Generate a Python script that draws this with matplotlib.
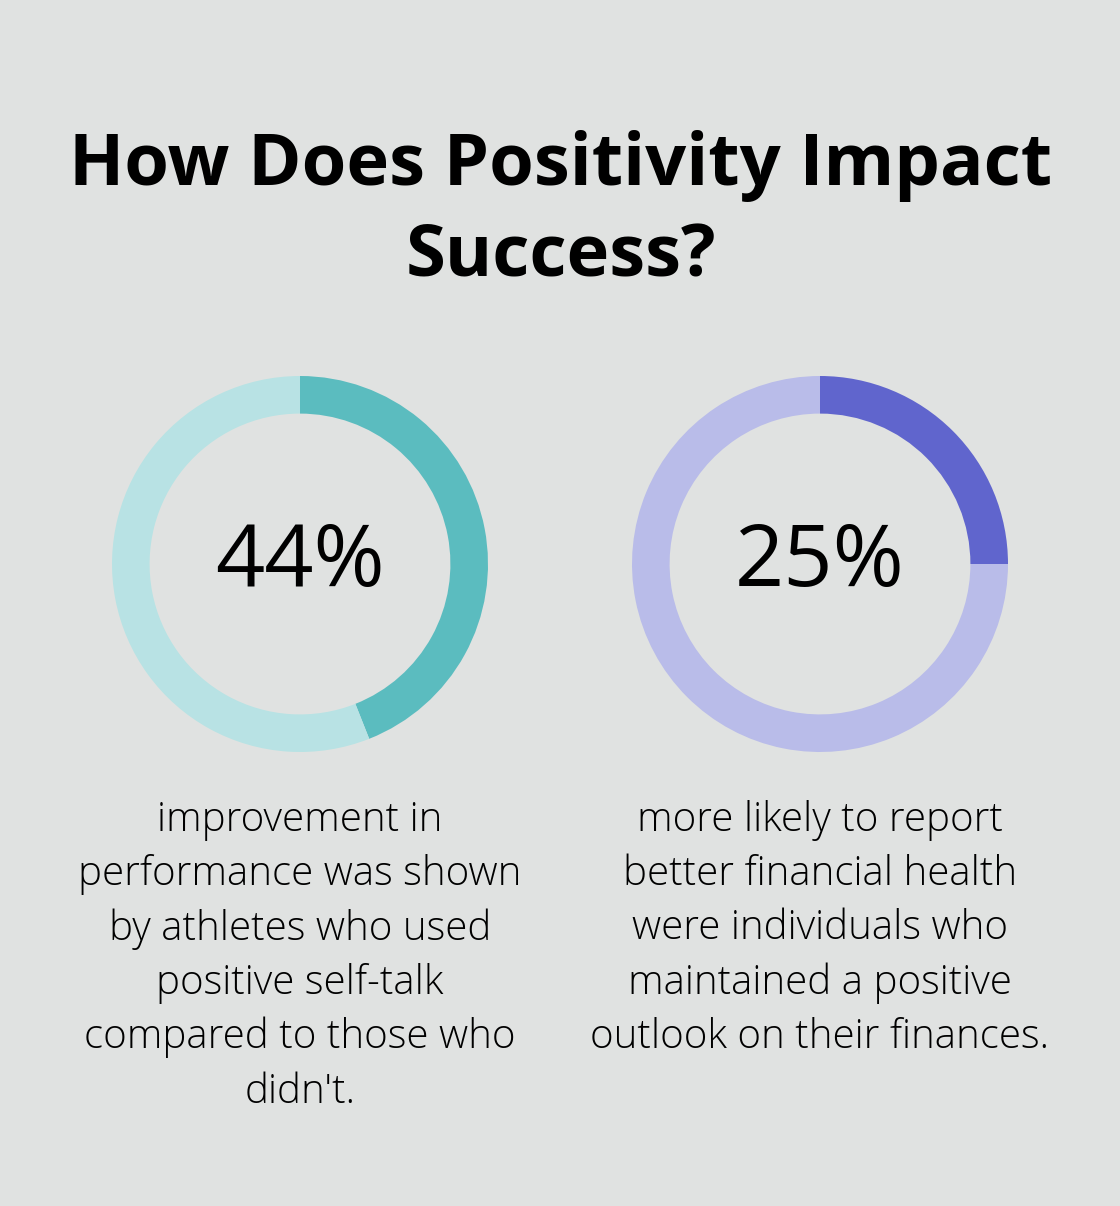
import matplotlib.pyplot as plt

# data
title = "How Does Positivity Impact\nSuccess?"
values = [44, 25]
labels = ["44%", "25%"]
captions = [
    "improvement in\nperformance was shown\nby athletes who used\npositive self-talk\ncompared to those who\ndidn't.",
    "more likely to report\nbetter financial health\nwere individuals who\nmaintained a positive\noutlook on their finances.",
]
main_colors = ["#5bbcbf", "#6065cd"]
rest_colors = ["#b8e2e4", "#b9bce9"]

bg = "#e0e2e1"
W, H = 1120, 1206
fig = plt.figure(figsize=(W / 100, H / 100), dpi=100, facecolor=bg)

fig.text(561 / W, 1 - 212 / H, title, ha="center", va="center", fontsize=52,
         fontweight="bold", family=["Open Sans", "DejaVu Sans"], linespacing=1.36)

centers_x = [300, 820]
cy = 564
r = 188
for i, v in enumerate(values):
    cx = centers_x[i]
    ax = fig.add_axes([(cx - r) / W, 1 - (cy + r) / H, 2 * r / W, 2 * r / H])
    ax.set_facecolor(bg)
    ax.pie([v, 100 - v], colors=[main_colors[i], rest_colors[i]], startangle=90,
           counterclock=False, radius=1, wedgeprops=dict(width=0.2, linewidth=0))
    ax.set_xlim(-1, 1)
    ax.set_ylim(-1, 1)
    ax.set_aspect("equal")
    ax.axis("off")
    ax.text(0, 0, labels[i], ha="center", va="center", fontsize=62,
            family=["Open Sans", "DejaVu Sans"])

    fig.text(cx / W, 1 - 800 / H, captions[i], ha="center", va="top", fontsize=29,
             fontweight="light", family=["Open Sans", "DejaVu Sans"], linespacing=1.42)

fig.savefig("out.png", dpi=100, facecolor=bg)
